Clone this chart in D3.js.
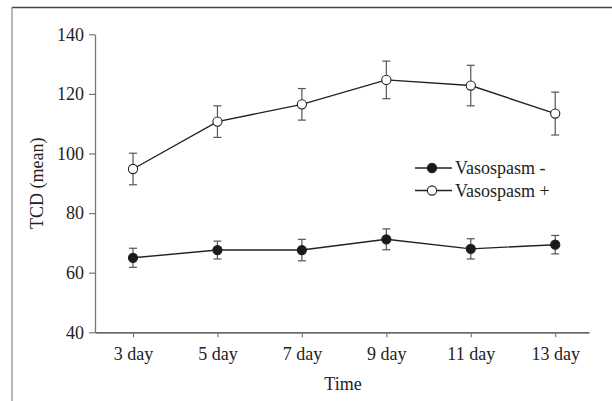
<!DOCTYPE html>
<html>
<head>
<meta charset="utf-8">
<script src="https://cdn.jsdelivr.net/npm/d3@7"></script>
<style>
  body { margin: 0; background: #fff; }
  svg text { font-family: "Liberation Serif", "DejaVu Serif", serif; fill: #222; }
</style>
</head>
<body>
<div id="chart"></div>
<script>
// data
const days = [3, 5, 7, 9, 11, 13];
const vasoNegMean = [65.0, 67.6, 67.6, 71.2, 68.0, 69.4];
const vasoNegErr  = [3.2, 3.0, 3.6, 3.5, 3.4, 3.1];
const vasoPosMean = [94.8, 110.7, 116.5, 124.7, 122.8, 113.4];
const vasoPosErr  = [5.3, 5.3, 5.3, 6.3, 6.8, 7.2];
const yTicks = [40, 60, 80, 100, 120, 140];

const W = 612, H = 401;
const serif = '"Liberation Serif", "DejaVu Serif", serif';
const x = d3.scaleLinear().domain([2.1, 13.8]).range([95, 589]);
const y = d3.scaleLinear().domain([40, 140]).range([332.3, 34.3]);

const svg = d3.select("#chart").append("svg")
  .attr("width", W)
  .attr("height", H)
  .attr("font-family", serif);

// frame (top + left only)
svg.append("line")
  .attr("x1", 12).attr("x2", W).attr("y1", 7.5).attr("y2", 7.5)
  .attr("stroke", "#444").attr("stroke-width", 1.5);
svg.append("line")
  .attr("x1", 12).attr("x2", 12).attr("y1", 7).attr("y2", H)
  .attr("stroke", "#888").attr("stroke-width", 1.2);

// y axis
const yAxis = svg.append("g")
  .attr("transform", `translate(${x.range()[0]},0)`)
  .call(d3.axisLeft(y).tickValues(yTicks).tickSize(6).tickPadding(5).tickSizeOuter(0))
  .attr("font-family", serif)
  .attr("font-size", 18);
yAxis.select(".domain").attr("stroke", "#777").attr("stroke-width", 1.3);
yAxis.selectAll(".tick line").attr("stroke", "#777").attr("stroke-width", 1.2);
yAxis.selectAll("text")
  .style("font-family", serif)
  .style("font-size", "18px")
  .attr("fill", "#222");

// x axis
const xAxis = svg.append("g")
  .attr("transform", `translate(0,${y.range()[0]})`)
  .call(d3.axisBottom(x).tickValues(days).tickFormat(d => `${d} day`)
    .tickSize(5).tickPadding(10).tickSizeOuter(0))
  .attr("font-family", serif)
  .attr("font-size", 18);
xAxis.select(".domain").attr("stroke", "#333").attr("stroke-width", 1.3);
xAxis.selectAll(".tick line").attr("stroke", "#777").attr("stroke-width", 1.2);
xAxis.selectAll("text")
  .style("font-family", serif)
  .style("font-size", "18px")
  .attr("fill", "#222");

// axis titles
svg.append("text")
  .attr("x", 343)
  .attr("y", 390)
  .attr("text-anchor", "middle")
  .style("font-family", serif)
  .style("font-size", "18px")
  .text("Time");

svg.append("text")
  .attr("transform", `translate(43,${(y.range()[0] + y.range()[1]) / 2}) rotate(-90)`)
  .attr("text-anchor", "middle")
  .style("font-family", serif)
  .style("font-size", "18px")
  .text("TCD (mean)");

// series
const series = [
  { name: "Vasospasm -", mean: vasoNegMean, err: vasoNegErr, fill: "#1a1a1a" },
  { name: "Vasospasm +", mean: vasoPosMean, err: vasoPosErr, fill: "#fff" }
];

const line = d3.line()
  .x(d => x(d.day))
  .y(d => y(d.mean));

series.forEach(s => {
  const pts = days.map((day, i) => ({ day, mean: s.mean[i], err: s.err[i] }));
  const g = svg.append("g");

  // error bars
  const eb = g.selectAll(".eb").data(pts).enter().append("g")
    .attr("stroke", "#555").attr("stroke-width", 1.2);
  eb.append("line")
    .attr("x1", d => x(d.day)).attr("x2", d => x(d.day))
    .attr("y1", d => y(d.mean - d.err)).attr("y2", d => y(d.mean + d.err));
  eb.append("line")
    .attr("x1", d => x(d.day) - 4).attr("x2", d => x(d.day) + 4)
    .attr("y1", d => y(d.mean + d.err)).attr("y2", d => y(d.mean + d.err));
  eb.append("line")
    .attr("x1", d => x(d.day) - 4).attr("x2", d => x(d.day) + 4)
    .attr("y1", d => y(d.mean - d.err)).attr("y2", d => y(d.mean - d.err));

  g.append("path")
    .datum(pts)
    .attr("d", line)
    .attr("fill", "none")
    .attr("stroke", "#222")
    .attr("stroke-width", 1.4);

  g.selectAll("circle").data(pts).enter().append("circle")
    .attr("cx", d => x(d.day))
    .attr("cy", d => y(d.mean))
    .attr("r", 4.6)
    .attr("fill", s.fill)
    .attr("stroke", "#222")
    .attr("stroke-width", 1.1);
});

// legend
const legend = svg.append("g");
series.forEach((s, i) => {
  const ly = 168 + i * 22.5;
  legend.append("line")
    .attr("x1", 415).attr("x2", 452).attr("y1", ly).attr("y2", ly)
    .attr("stroke", "#222").attr("stroke-width", 1.4);
  legend.append("circle")
    .attr("cx", 432).attr("cy", ly).attr("r", 4.6)
    .attr("fill", s.fill).attr("stroke", "#222").attr("stroke-width", 1.1);
  legend.append("text")
    .attr("x", 455).attr("y", ly + 6)
    .style("font-family", serif)
    .style("font-size", "18px")
    .text(s.name);
});
</script>
</body>
</html>
